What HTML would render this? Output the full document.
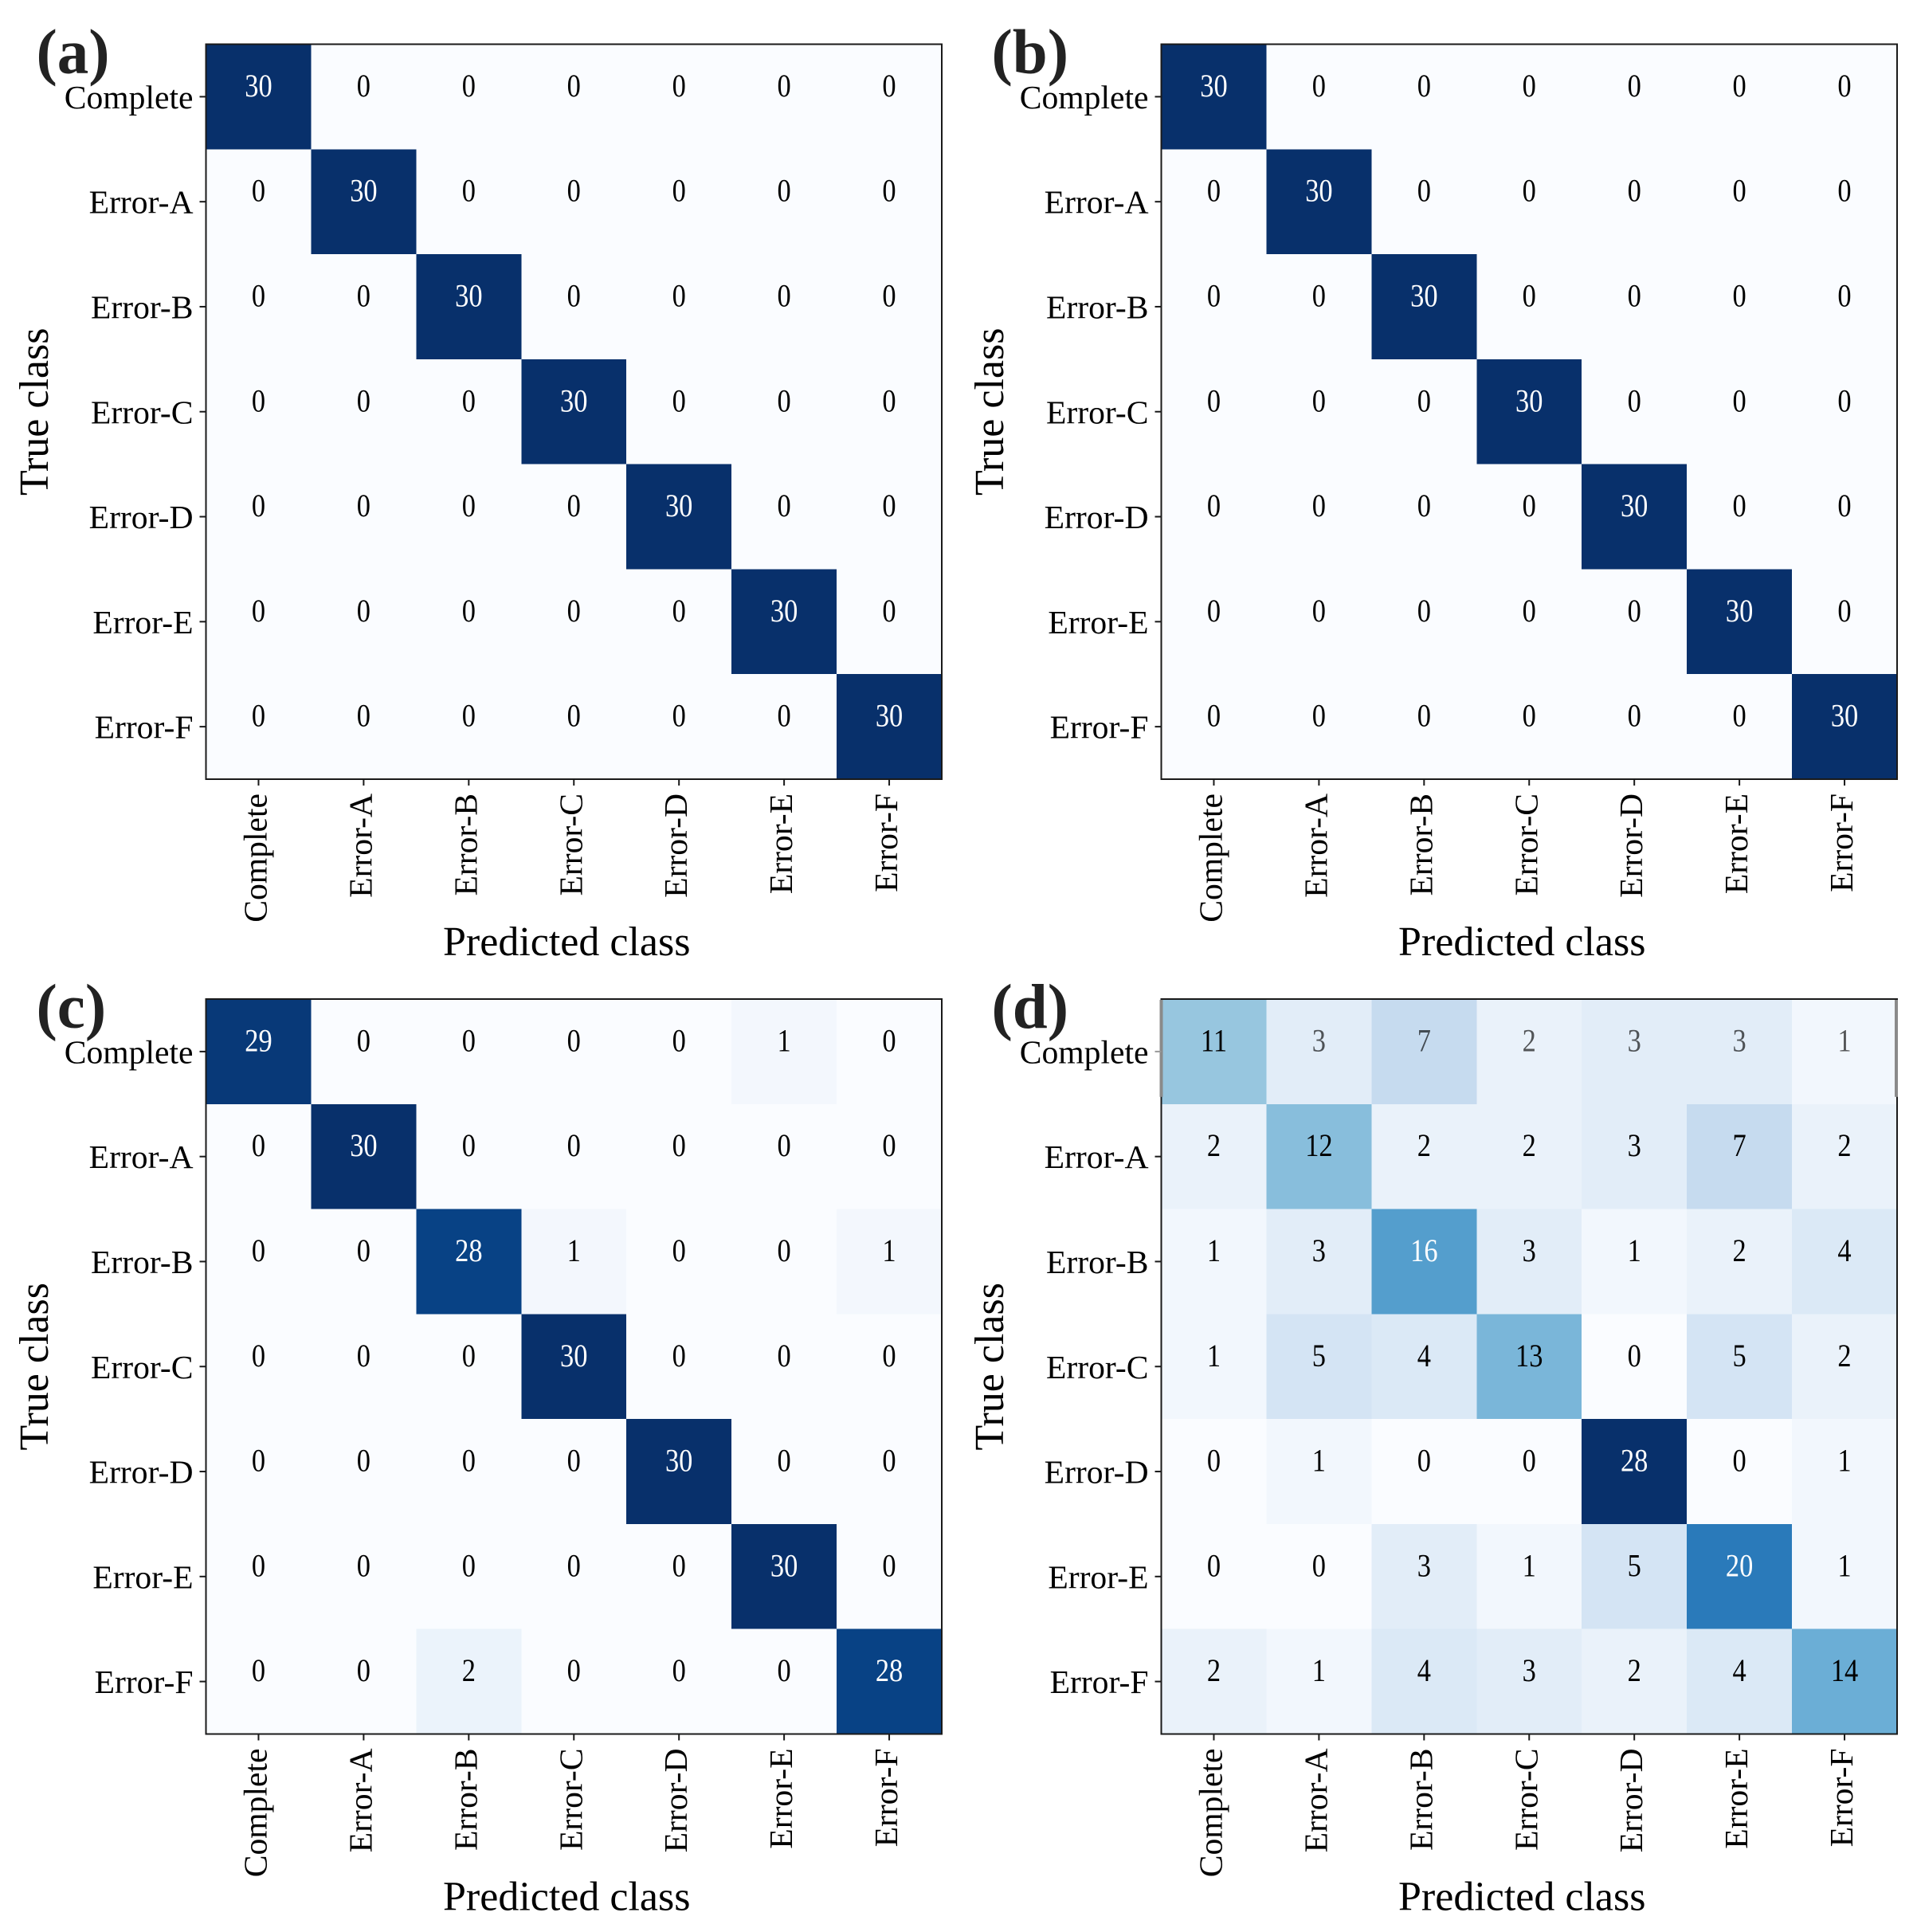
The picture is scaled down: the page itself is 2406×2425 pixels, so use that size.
<!DOCTYPE html>
<html lang="en">
<head>
<meta charset="utf-8">
<title>Confusion matrices</title>
<style>
html,body{margin:0;padding:0;background:#fff;}
svg{display:block;}
text{font-family:"Liberation Serif",serif;}
</style>
</head>
<body>
<svg id="figure" xmlns="http://www.w3.org/2000/svg" width="2406" height="2425" viewBox="0 0 2406 2425"></svg>
<script>
const classLabels = ["Complete","Error-A","Error-B","Error-C","Error-D","Error-E","Error-F"];
const matrixA = [
  [30,0,0,0,0,0,0],
  [0,30,0,0,0,0,0],
  [0,0,30,0,0,0,0],
  [0,0,0,30,0,0,0],
  [0,0,0,0,30,0,0],
  [0,0,0,0,0,30,0],
  [0,0,0,0,0,0,30]
];
const matrixB = [
  [30,0,0,0,0,0,0],
  [0,30,0,0,0,0,0],
  [0,0,30,0,0,0,0],
  [0,0,0,30,0,0,0],
  [0,0,0,0,30,0,0],
  [0,0,0,0,0,30,0],
  [0,0,0,0,0,0,30]
];
const matrixC = [
  [29,0,0,0,0,1,0],
  [0,30,0,0,0,0,0],
  [0,0,28,1,0,0,1],
  [0,0,0,30,0,0,0],
  [0,0,0,0,30,0,0],
  [0,0,0,0,0,30,0],
  [0,0,2,0,0,0,28]
];
const matrixD = [
  [11,3,7,2,3,3,1],
  [2,12,2,2,3,7,2],
  [1,3,16,3,1,2,4],
  [1,5,4,13,0,5,2],
  [0,1,0,0,28,0,1],
  [0,0,3,1,5,20,1],
  [2,1,4,3,2,4,14]
];

const svg = document.getElementById('figure');
const NS = 'http://www.w3.org/2000/svg';
const PLOT_W = 923.5, PLOT_H = 922.5;

function mk(tag, attrs, parent, txt) {
  const el = document.createElementNS(NS, tag);
  for (const k in attrs) el.setAttribute(k, attrs[k]);
  if (txt !== undefined) el.textContent = txt;
  parent.appendChild(el);
  return el;
}

function blues(t) {
  const stops = [[250,252,255],[222,235,247],[198,219,239],[158,202,225],[107,174,214],[66,146,198],[33,113,181],[8,81,156],[8,48,107]];
  const p = Math.max(0, Math.min(1, t)) * (stops.length - 1);
  const i = Math.min(Math.floor(p), stops.length - 2);
  const f = p - i;
  const c = stops[i].map((v, n) => Math.round(v + (stops[i + 1][n] - v) * f));
  return 'rgb(' + c.join(',') + ')';
}

function drawPanel(letter, matrix, left, top, fadedTopRow) {
  const n = classLabels.length;
  const xScale = i => left + (i * PLOT_W) / n;
  const yScale = i => top + (i * PLOT_H) / n;
  const cw = PLOT_W / n, ch = PLOT_H / n;
  const maxV = Math.max.apply(null, matrix.map(r => Math.max.apply(null, r)));

  const g = mk('g', {}, svg);
  
  

  matrix.forEach((row, r) => {
    row.forEach((v, c) => {
      const cell = mk('rect', {
        x: xScale(c), y: yScale(r), width: cw + 0.5, height: ch + 0.5,
        fill: blues(v / maxV), 'shape-rendering': 'crispEdges'
      }, g);
      
      
    });
  });

  matrix.forEach((row, r) => {
    row.forEach((v, c) => {
      const cx = xScale(c) + cw / 2, cy = yScale(r) + ch / 2;
      const label = mk('text', {
        transform: 'translate(' + cx + ',' + (cy - 0.5) + ') scale(0.86,1)',
        'text-anchor': 'middle', 'font-size': 40,
        fill: v > maxV / 2 ? '#ffffff' : '#000000',
        opacity: (fadedTopRow && r === 0 && v < 10) ? 0.65 : 1
      }, g, String(v));
      
      
    });
  });

  const frame = mk('rect', {
    x: left, y: top, width: PLOT_W, height: PLOT_H,
    fill: 'none', stroke: '#1a1a1a', 'stroke-width': 2
  }, g);
  
  

  if (fadedTopRow) {
    const leftEdge = mk('rect', { x: left - 2, y: top + 1, width: 4, height: ch - 10, fill: '#8a8a8a' }, g);
    
    
    const rightEdge = mk('rect', { x: left + PLOT_W - 3, y: top + 1, width: 4, height: ch - 10, fill: '#8a8a8a' }, g);
    
    
  }

  classLabels.forEach((name, i) => {
    const ty = yScale(i) + ch / 2;
    const tx = xScale(i) + cw / 2;

    const yTick = mk('line', {
      x1: left - 8, x2: left, y1: ty, y2: ty,
      stroke: (fadedTopRow && i === 0) ? '#999' : '#1a1a1a', 'stroke-width': 2
    }, g);
    
    

    const yLabel = mk('text', {
      x: left - 16, y: ty + 14.5, 'text-anchor': 'end', 'font-size': 41.6, fill: '#000'
    }, g, name);
    
    

    const xTick = mk('line', {
      x1: tx, x2: tx, y1: top + PLOT_H, y2: top + PLOT_H + 8, stroke: '#1a1a1a', 'stroke-width': 2
    }, g);
    
    

    const xLabel = mk('text', {
      transform: 'translate(' + (tx + 10) + ',' + (top + PLOT_H + 18) + ') rotate(-90)',
      'text-anchor': 'end', 'font-size': 41.6, fill: '#000'
    }, g, name);
    
    
  });

  const xTitle = mk('text', {
    x: left + PLOT_W / 2 - 9, y: top + PLOT_H + 221,
    'text-anchor': 'middle', 'font-size': 52, fill: '#000'
  }, g, 'Predicted class');
  
  

  const yTitle = mk('text', {
    transform: 'translate(' + (left - 198.5) + ',' + (top + PLOT_H / 2) + ') rotate(-90)',
    'text-anchor': 'middle', 'font-size': 52, fill: '#000'
  }, g, 'True class');
  
  

  const tag = mk('text', {
    x: left - 213, y: top + 36, 'font-size': 79, 'font-weight': 'bold', fill: '#222'
  }, g, '(' + letter + ')');
  
  
}

drawPanel('a', matrixA, 258.5, 55.5, false);
drawPanel('b', matrixB, 1457.5, 55.5, false);
drawPanel('c', matrixC, 258.5, 1254, false);
drawPanel('d', matrixD, 1457.5, 1254, true);
</script>
</body>
</html>
